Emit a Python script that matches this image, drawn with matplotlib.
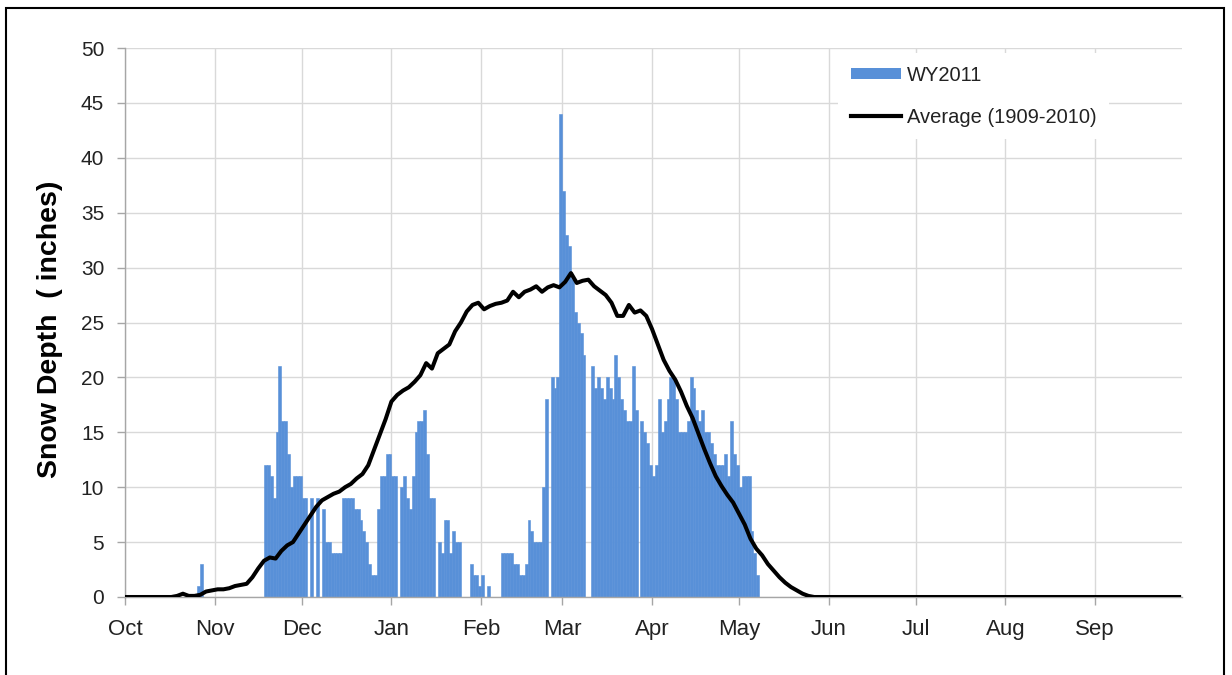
import matplotlib
matplotlib.use('Agg')
import matplotlib.pyplot as plt
from matplotlib.patches import Rectangle, Patch
from matplotlib.lines import Line2D
import numpy as np

plt.rcParams['font.family'] = ['Liberation Sans', 'DejaVu Sans']

# month labels and day-of-water-year where each month starts (Oct 1 = day 0)
months = ['Oct', 'Nov', 'Dec', 'Jan', 'Feb', 'Mar', 'Apr', 'May', 'Jun', 'Jul', 'Aug', 'Sep']
month_start = [0, 31, 61, 92, 123, 151, 182, 212, 243, 273, 304, 335]

# WY2011 daily snow depth (inches), starting at day 25 (Oct 26)
wy2011_first_day = 25
wy2011 = [
    1, 3, 0, 0, 0, 0, 0, 0, 0, 0, 0, 0, 0, 0, 0, 0, 0, 0, 0, 0, 0, 0, 0,
    12, 12, 11, 9, 15, 21, 16, 16, 13, 10, 11, 11, 11,
    9, 9, 0, 9, 0, 9, 0, 8, 5, 5, 4, 4, 4, 4,
    9, 9, 9, 9, 8, 8, 7, 6, 5, 3, 2, 2, 8, 11, 11, 13, 13, 11, 11, 0,
    10, 11, 9, 8, 11, 15, 16, 16, 17, 13, 9, 9, 0, 5, 4, 7, 7, 4, 6, 5, 5, 0, 0, 0,
    3, 2, 2, 1, 2, 0, 1, 0, 0, 0, 0, 4, 4, 4, 4, 3, 3, 2, 2, 3, 7, 6, 5, 5, 5, 10, 18, 0, 20, 19, 20,
    44, 37, 33, 32, 29, 26, 25, 24, 22, 0, 0, 21, 19, 20, 19, 18, 20, 19, 18, 22, 20, 18, 17, 16, 16, 21, 17, 0,
    16, 15, 14, 12, 11, 12, 18, 15, 16, 18, 20, 20, 18, 15, 15, 15, 16, 20, 19, 17, 16, 17, 15, 15, 14,
    13, 12, 12, 12, 13, 11, 16, 13, 12, 10, 11, 11, 11, 6, 4, 2,
]

# Average (1909-2010) snow depth, read every second day from day 0 to 240, then flat to Sep 30
avg_days = list(range(0, 242, 2)) + [364]
avg_depth = [
    0, 0, 0, 0, 0, 0, 0, 0, 0,
    0.1, 0.3, 0.1, 0.1, 0.2, 0.5, 0.6, 0.7, 0.7, 0.8, 1.0, 1.1, 1.2, 1.8, 2.6,
    3.3, 3.6, 3.5, 4.2, 4.7, 5.0, 5.8, 6.6, 7.4, 8.2, 8.8, 9.1, 9.4, 9.6, 10.0,
    10.3, 10.8, 11.2, 12.0, 13.4, 14.8, 16.2, 17.8, 18.4, 18.8, 19.1, 19.6, 20.2,
    21.3, 20.8, 22.2, 22.6, 23.0, 24.2, 25.0, 26.0, 26.6, 26.8, 26.2, 26.5, 26.7,
    26.8, 27.0, 27.8, 27.3, 27.8, 28.0, 28.3, 27.8, 28.2, 28.4, 28.2, 28.7, 29.5,
    28.6, 28.8, 28.9, 28.3, 27.9, 27.5, 26.8, 25.6, 25.6, 26.6, 25.9, 26.1, 25.6,
    24.4, 23.0, 21.6, 20.6, 19.8, 18.7, 17.4, 16.3, 14.9, 13.5, 12.2, 11.0, 10.1,
    9.3, 8.6, 7.6, 6.6, 5.3, 4.4, 3.8, 3.0, 2.4, 1.8, 1.3, 0.9, 0.6, 0.3, 0.1,
    0.0, 0.0, 0.0,
]

bar_days = np.arange(len(wy2011)) + wy2011_first_day

fig = plt.figure(figsize=(12.32, 6.75), dpi=100)
ax = fig.add_axes([125 / 1232, 1 - 597 / 675, 1057 / 1232, 549 / 675])

grid_c = '#d9d9d9'
bar_c = '#5890d8'
ax.bar(bar_days, wy2011, width=1.0, align='edge', color=bar_c,
       edgecolor=bar_c, linewidth=0.4, zorder=2)
ax.plot(avg_days, avg_depth, color='black', linewidth=2.9, zorder=3,
        solid_joinstyle='round')

ax.set_xlim(0, 365)
ax.set_ylim(0, 50)
ax.set_yticks(range(0, 51, 5))
ax.set_xticks(month_start)
ax.set_xticklabels(months)
ax.grid(True, color=grid_c, linewidth=1.0, zorder=0)
ax.set_axisbelow(True)

for s in ['top', 'right']:
    ax.spines[s].set_visible(False)
for s in ['left', 'bottom']:
    ax.spines[s].set_color('#a6a6a6')
    ax.spines[s].set_linewidth(1.0)
ax.tick_params(axis='both', colors='#a6a6a6', length=6, width=1.0, direction='out')
ax.tick_params(axis='y', labelsize=15, labelcolor='#222222', pad=9)
ax.tick_params(axis='x', labelsize=16, labelcolor='#222222', pad=10)

ax.set_ylabel('Snow Depth  ( inches)', fontsize=20.5, fontweight='bold', color='black')
ax.yaxis.set_label_coords(-0.059, 0.488)

handles = [Patch(facecolor=bar_c, edgecolor='none'),
           Line2D([0], [0], color='black', linewidth=3)]
leg = ax.legend(handles, ['WY2011', 'Average (1909-2010)'], loc='upper left',
                bbox_to_anchor=(0.675, 0.99), fontsize=14.5, frameon=True,
                fancybox=False, framealpha=1, edgecolor='white',
                handlelength=2.5, handleheight=0.5, handletextpad=0.3,
                labelspacing=1.15, borderpad=0.6, borderaxespad=0)
leg.get_frame().set_linewidth(0)
for t in leg.get_texts():
    t.set_color('#222222')

fig.add_artist(Rectangle((6 / 1232, -0.02), 1218 / 1232, 1.02 - 8 / 675,
                         transform=fig.transFigure, fill=False,
                         edgecolor='black', linewidth=1.5))

fig.savefig('out.png', dpi=100)
